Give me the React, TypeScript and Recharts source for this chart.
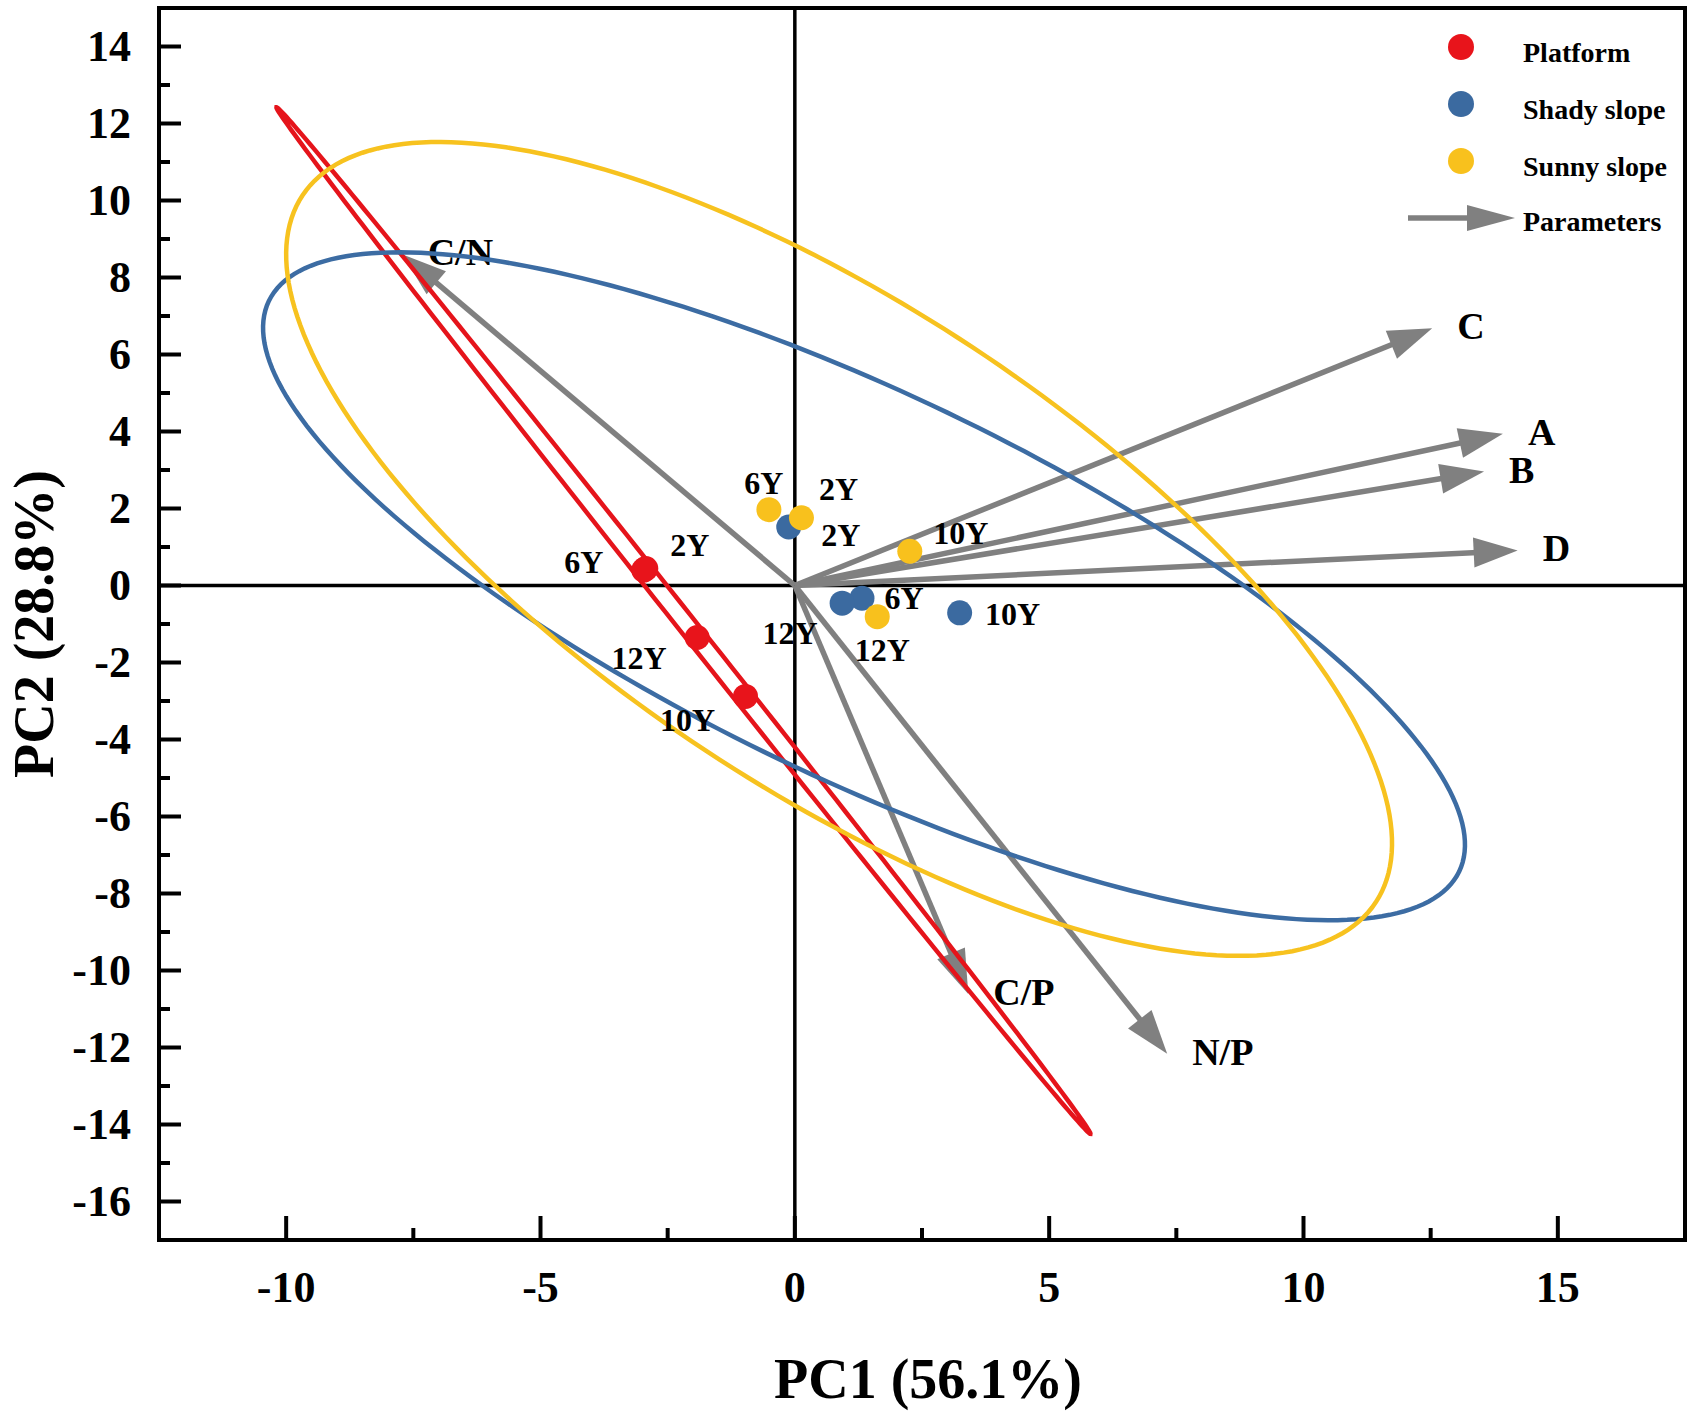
import React from 'react';
import { ScatterChart, Scatter, XAxis, YAxis, ReferenceLine, ReferenceArea, Legend } from 'recharts';

const FONT = '"Liberation Serif", "Times New Roman", serif';
const GREY = '#808080';

// sample scores (PC1, PC2)
const platform = [
  { pc1: -2.93, pc2: 0.44, year: '2Y' },
  { pc1: -2.97, pc2: 0.4, year: '6Y' },
  { pc1: -0.97, pc2: -2.88, year: '10Y' },
  { pc1: -1.92, pc2: -1.35, year: '12Y' },
];
const shady = [
  { pc1: -0.12, pc2: 1.52, year: '2Y' },
  { pc1: 1.32, pc2: -0.33, year: '6Y' },
  { pc1: 3.24, pc2: -0.71, year: '10Y' },
  { pc1: 0.93, pc2: -0.46, year: '12Y' },
];
const sunny = [
  { pc1: 0.13, pc2: 1.76, year: '2Y' },
  { pc1: -0.51, pc2: 1.97, year: '6Y' },
  { pc1: 2.26, pc2: 0.89, year: '10Y' },
  { pc1: 1.62, pc2: -0.81, year: '12Y' },
];

// confidence ellipses: centre, end of major semi-axis, end of minor semi-axis
const platformEllipse = [
  { pc1: -2.19, pc2: -0.91 },
  { pc1: -10.19, pc2: 12.42 },
  { pc1: -2.055, pc2: -0.764 },
];
const shadyEllipse = [
  { pc1: 1.36, pc2: -0.02 },
  { pc1: 13.06, pc2: -7.43 },
  { pc1: 3.0, pc2: 4.49 },
];
const sunnyEllipse = [
  { pc1: 0.87, pc2: 0.95 },
  { pc1: 11.42, pc2: -8.23 },
  { pc1: 3.49, pc2: 6.19 },
];

// parameter loadings (arrow tips)
const loadings = [
  { name: 'C/N', pc1: -7.71, pc2: 8.6 },
  { name: 'C', pc1: 12.53, pc2: 6.68 },
  { name: 'A', pc1: 13.92, pc2: 3.94 },
  { name: 'B', pc1: 13.55, pc2: 2.96 },
  { name: 'D', pc1: 14.21, pc2: 0.91 },
  { name: 'C/P', pc1: 3.41, pc2: -10.61 },
  { name: 'N/P', pc1: 7.32, pc2: -12.16 },
];

const xTicks = [-10, -7.5, -5, -2.5, 0, 2.5, 5, 7.5, 10, 12.5, 15];
const yTicks = [-16, -15, -14, -13, -12, -11, -10, -9, -8, -7, -6, -5, -4, -3, -2, -1, 0, 1, 2, 3, 4, 5, 6, 7, 8, 9, 10, 11, 12, 13, 14];

// where each year label sits relative to its dot (px)
const labelOffset: Record<string, Record<string, [number, number]>> = {
  Platform: { '2Y': [44, -24], '6Y': [-60, -8], '10Y': [-58, 24], '12Y': [-58, 21] },
  'Shady slope': { '2Y': [52, 8], '6Y': [42, 0], '10Y': [53, 1], '12Y': [-52, 30] },
  'Sunny slope': { '2Y': [37, -29], '6Y': [-5, -27], '10Y': [51, -18], '12Y': [5, 33] },
};

const groups = [
  { name: 'Platform', color: '#E8141B', line: '#E5141B', data: platform, ellipse: platformEllipse },
  { name: 'Shady slope', color: '#3B6AA0', line: '#3C6CA3', data: shady, ellipse: shadyEllipse },
  { name: 'Sunny slope', color: '#F8C11D', line: '#F7C21F', data: sunny, ellipse: sunnyEllipse },
];

const EllipseOutline = ({ points, color }: any) => {
  if (!points || points.length < 3) return null;
  const [c, a, b] = points;
  const ux = a.x - c.x, uy = a.y - c.y, vx = b.x - c.x, vy = b.y - c.y;
  const d: string[] = [];
  for (let i = 0; i <= 240; i++) {
    const t = (i / 240) * Math.PI * 2;
    const px = c.x + ux * Math.cos(t) + vx * Math.sin(t);
    const py = c.y + uy * Math.cos(t) + vy * Math.sin(t);
    d.push(`${i ? 'L' : 'M'}${px.toFixed(2)},${py.toFixed(2)}`);
  }
  return <path d={d.join(' ') + 'Z'} fill="none" stroke={color} strokeWidth={4.5} />;
};

const PointMark = ({ cx, cy, payload, group, color }: any) => {
  const off = labelOffset[group][payload.year] || [0, 0];
  return (
    <g>
      <circle cx={cx} cy={cy} r={12.5} fill={color} />
      <text x={cx + off[0]} y={cy + off[1]} textAnchor="middle" dominantBaseline="central"
        fontFamily={FONT} fontWeight="bold" fontSize={32} fill="#000">{payload.year}</text>
    </g>
  );
};

const Arrow = ({ x1, y1, x2, y2, name }: any) => {
  const dx = x2 - x1, dy = y2 - y1;
  const len = Math.hypot(dx, dy) || 1;
  const ux = dx / len, uy = dy / len;
  const head = 44, half = 15;
  const bx = x2 - ux * head, by = y2 - uy * head;
  const pts = `${x2},${y2} ${bx - uy * half},${by + ux * half} ${bx + uy * half},${by - ux * half}`;
  return (
    <g>
      <line x1={x1} y1={y1} x2={bx + ux * 4} y2={by + uy * 4} stroke={GREY} strokeWidth={5.5} />
      <polygon points={pts} fill={GREY} />
      <text x={x2 + 25} y={y2 - 2} dominantBaseline="central" fontFamily={FONT} fontWeight="bold"
        fontSize={38} fill="#000">{name}</text>
    </g>
  );
};

const XTick = ({ x, y, payload }: any) => {
  const v = payload.value;
  const major = v % 5 === 0;
  return (
    <g>
      <line x1={x} x2={x} y1={y} y2={y - (major ? 24 : 12)} stroke="#000" strokeWidth={4} />
      {major && (
        <text x={x} y={y + 47} textAnchor="middle" dominantBaseline="central" fontFamily={FONT}
          fontWeight="bold" fontSize={44} fill="#000">{v}</text>
      )}
    </g>
  );
};

const YTick = ({ x, y, payload }: any) => {
  const v = payload.value;
  const major = v % 2 === 0;
  return (
    <g>
      <line x1={x} x2={x + (major ? 22 : 11)} y1={y} y2={y} stroke="#000" strokeWidth={4} />
      {major && (
        <text x={x - 28} y={y} textAnchor="end" dominantBaseline="central" fontFamily={FONT}
          fontWeight="bold" fontSize={44} fill="#000">{v}</text>
      )}
    </g>
  );
};

const XTitle = ({ viewBox }: any) => (
  <text x={viewBox.x + viewBox.width / 2 + 6} y={viewBox.y + 158} textAnchor="middle" fontFamily={FONT}
    fontWeight="bold" fontSize={56} fill="#000">PC1 (56.1%)</text>
);

const YTitle = ({ viewBox }: any) => {
  const cy = viewBox.y + viewBox.height / 2;
  return (
    <text x={53} y={cy} transform={`rotate(-90, 53, ${cy})`} textAnchor="middle" fontFamily={FONT}
      fontWeight="bold" fontSize={56} fill="#000">PC2 (28.8%)</text>
  );
};

const LegendBox = () => (
  <svg width={305} height={250} style={{ overflow: 'visible' }}>
    {groups.map((g, i) => (
      <g key={g.name}>
        <circle cx={71} cy={47 + i * 57} r={13} fill={g.color} />
        <text x={133} y={62 + i * 57} fontFamily={FONT} fontWeight="bold" fontSize={28} fill="#000">{g.name}</text>
      </g>
    ))}
    <line x1={18} y1={218} x2={80} y2={218} stroke={GREY} strokeWidth={5.5} />
    <polygon points="77,205 125,218 77,231" fill={GREY} />
    <text x={133} y={231} fontFamily={FONT} fontWeight="bold" fontSize={28} fill="#000">Parameters</text>
  </svg>
);

export default function App() {
  return (
    <div style={{ position: 'absolute', left: 0, top: 0, width: 1695, height: 1411, background: '#fff' }}>
      <ScatterChart width={1695} height={1411} margin={{ top: 8, right: 10, bottom: 0, left: 0 }}>
        <XAxis type="number" dataKey="pc1" domain={[-12.5, 17.5]} allowDataOverflow ticks={xTicks}
          interval={0} tickLine={false} tickSize={0} tickMargin={0} height={171}
          axisLine={{ stroke: '#000', strokeWidth: 4 }} tick={(p: any) => <XTick {...p} />}
          label={{ content: (p: any) => <XTitle {...p} /> }} />
        <YAxis type="number" dataKey="pc2" domain={[-17, 15]} allowDataOverflow ticks={yTicks}
          interval={0} tickLine={false} tickSize={0} tickMargin={0} width={159}
          axisLine={{ stroke: '#000', strokeWidth: 4 }} tick={(p: any) => <YTick {...p} />}
          label={{ content: (p: any) => <YTitle {...p} /> }} />
        <ReferenceArea x1={-12.5} x2={17.5} y1={-17} y2={15} fill="none" fillOpacity={0}
          stroke="#000" strokeWidth={4} />
        <ReferenceLine x={0} stroke="#000" strokeWidth={3.5} />
        <ReferenceLine y={0} stroke="#000" strokeWidth={3.5} />
        {groups.map((g) => (
          <Scatter key={g.name + '-ellipse'} data={g.ellipse} legendType="none" fill={g.line}
            shape={() => <g />}
            line={(p: any) => <EllipseOutline points={p.points} color={g.line} />}
            isAnimationActive={false} />
        ))}
        {loadings.map((l) => (
          <ReferenceLine key={l.name} segment={[{ x: 0, y: 0 }, { x: l.pc1, y: l.pc2 }]}
            shape={(p: any) => <Arrow {...p} name={l.name} />} />
        ))}
        {groups.map((g) => (
          <Scatter key={g.name} name={g.name} data={g.data} fill={g.color}
            shape={(p: any) => <PointMark {...p} group={g.name} color={g.color} />}
            isAnimationActive={false} />
        ))}
        <Legend layout="vertical" align="center" verticalAlign="middle" content={() => <LegendBox />}
          wrapperStyle={{ position: 'absolute', left: 1390, top: 0, width: 305, height: 250 }} />
      </ScatterChart>
    </div>
  );
}
